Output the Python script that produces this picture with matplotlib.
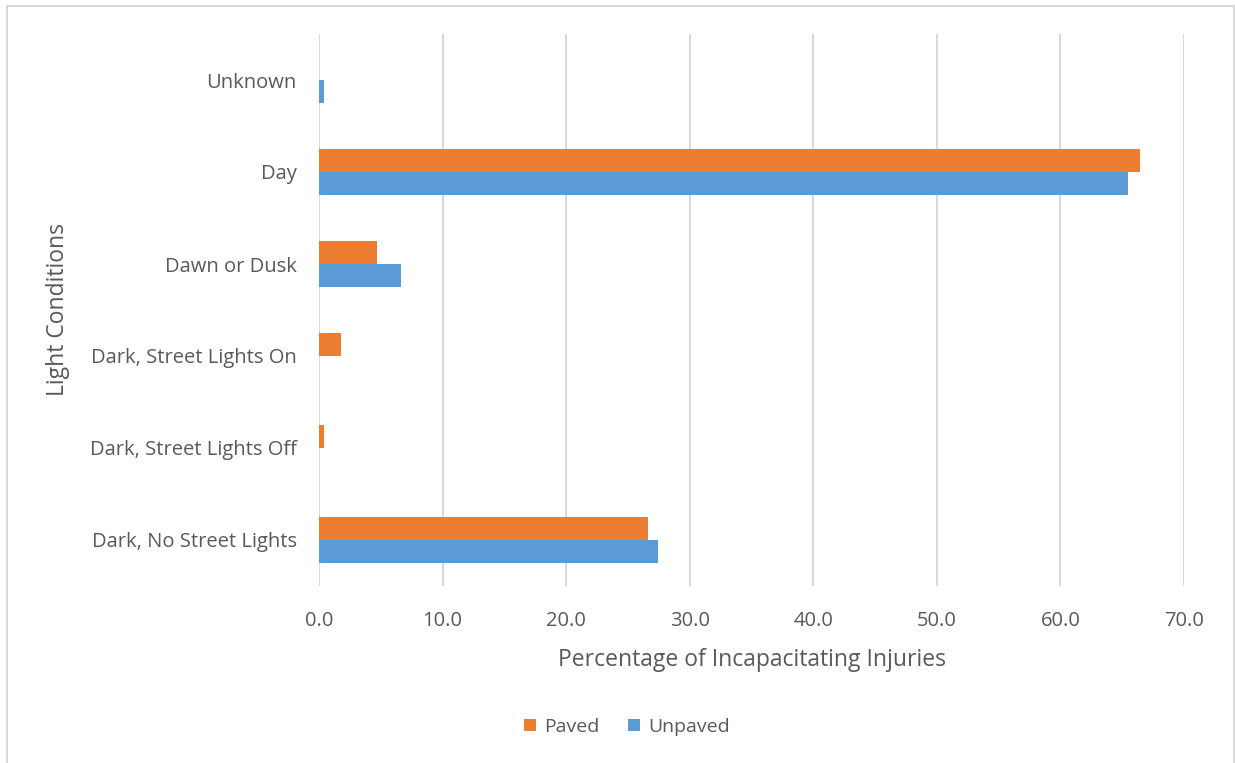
import numpy as np
import matplotlib.pyplot as plt
from matplotlib.patches import Rectangle

# categories, bottom to top as drawn
conditions = ["Dark, No Street Lights", "Dark, Street Lights Off", "Dark, Street Lights On",
              "Dawn or Dusk", "Day", "Unknown"]
paved = [26.6, 0.4, 1.8, 4.7, 66.4, 0.0]
unpaved = [27.4, 0.0, 0.0, 6.6, 65.5, 0.4]
xticks = np.arange(0, 80, 10)

plt.rcParams['font.family'] = ['Open Sans', 'DejaVu Sans']
grey = '#595959'

fig = plt.figure(figsize=(12.35, 7.63), dpi=100)
ax = fig.add_axes([319/1235, 1 - 586/763, (1184 - 319)/1235, (586 - 34)/763])

y = np.arange(len(conditions))
h = 0.255
ax.barh(y + h/2, paved, height=h, color='#ED7D31', label='Paved', zorder=3)
ax.barh(y - h/2, unpaved, height=h, color='#5B9BD5', label='Unpaved', zorder=3)

ax.set_xlim(0, 70)
ax.set_ylim(-0.5, len(conditions) - 0.5)
ax.set_xticks(xticks)
ax.set_xticklabels(["%.1f" % v for v in xticks])
ax.set_yticks(y)
ax.set_yticklabels(conditions)
ax.tick_params(axis='both', length=0, labelsize=14.5, labelcolor=grey)
ax.tick_params(axis='x', pad=18)
ax.tick_params(axis='y', pad=16)
ax.grid(axis='x', color='#d9d9d9', lw=1.5, zorder=0)
for s in ax.spines.values():
    s.set_visible(False)

ax.set_xlabel("Percentage of Incapacitating Injuries", fontsize=16.5, color=grey, labelpad=12)
ax.set_ylabel("Light Conditions", fontsize=16.5, color=grey, labelpad=14)

fig.legend(loc='center', bbox_to_anchor=(627/1235, 1 - 727/763), ncol=2, frameon=False,
           fontsize=14, labelcolor=grey, handlelength=0.6, handleheight=0.6,
           handletextpad=0.4, columnspacing=1.5)

fig.patches.append(Rectangle((7/1235, -0.01), (1234 - 7)/1235, 1.01 - 6/763,
                             transform=fig.transFigure, fill=False,
                             edgecolor='#d9d9d9', lw=1.5))

fig.savefig("out.png", dpi=100)
